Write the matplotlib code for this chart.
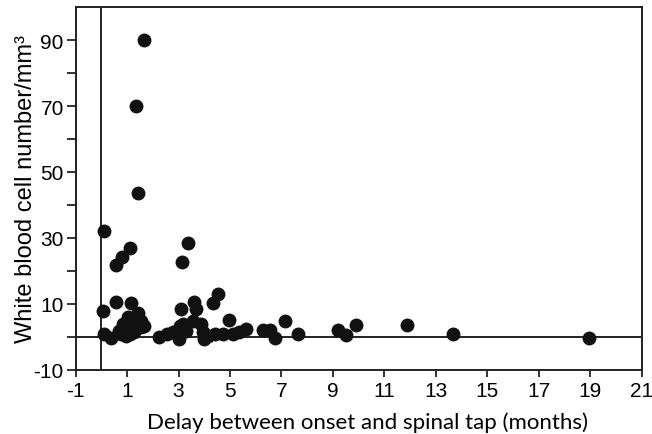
import matplotlib
matplotlib.use("Agg")
import matplotlib.pyplot as plt

plt.rcParams["font.family"] = ["Liberation Sans", "DejaVu Sans"]
plt.rcParams["axes.unicode_minus"] = False

# delay between onset and spinal tap (months) vs white blood cell count
delay_months = [
    0.11, 0.05, 0.12, 0.37, 0.57, 0.56, 0.82, 1.12, 1.15, 1.42,
    1.02, 0.83, 0.70, 1.15, 1.54, 1.67, 1.28, 0.96, 1.67, 1.35,
    1.43, 0.78, 1.10, 1.55,
    2.25, 2.57, 2.78, 3.11, 3.13, 3.35, 3.17, 3.30, 3.01, 3.04,
    3.56, 3.62, 3.69, 3.88, 3.95, 4.14, 4.33, 4.53, 4.40, 4.00,
    4.72, 4.98, 5.11, 5.37, 5.63, 6.28, 6.54, 6.75, 7.15, 7.65,
    9.19, 9.51, 9.90, 11.87, 13.68, 18.96,
]
wbc_count = [
    32.0, 7.7, 0.8, -0.5, 10.4, 21.7, 24.2, 26.9, 10.2, 7.2,
    5.9, 3.9, 1.8, 3.3, 4.9, 3.3, 1.3, 0.3, 90.0, 70.0,
    43.5, 0.8, 0.8, 3.0,
    -0.2, 0.8, 1.3, 8.4, 22.7, 28.4, 3.9, 1.8, -0.6, 3.3,
    4.9, 10.4, 8.4, 3.9, 1.3, 0.3, 10.2, 12.9, 0.8, -0.6,
    0.8, 5.0, 0.8, 1.3, 2.3, 2.1, 2.1, -0.5, 4.8, 0.7,
    2.0, 0.6, 3.5, 3.5, 0.8, -0.5,
]

x_ticks = list(range(-1, 22, 2))
y_ticks = list(range(-10, 91, 20))
y_minor = list(range(0, 81, 20))

fig = plt.figure(figsize=(6.52, 4.35), dpi=100)
ax = fig.add_axes([0.116, 0.148, 0.868, 0.833])

ax.plot(delay_months, wbc_count, "o", color="#111111", markersize=10,
        markeredgewidth=0, zorder=3)

# reference lines at x=0 and y=0
ax.axvline(0, color="#222222", linewidth=1.4, zorder=2)
ax.axhline(0, color="#222222", linewidth=1.4, zorder=2)

ax.set_xlim(-1, 21)
ax.set_ylim(-10, 100)
ax.set_xticks(x_ticks)
ax.set_yticks(y_ticks)
ax.set_yticks(y_minor, minor=True)
ax.tick_params(axis="both", which="both", direction="out", width=1.3,
               color="#222222", labelsize=15)
ax.tick_params(axis="x", length=5, pad=3)
ax.tick_params(axis="y", which="both", length=6.5, pad=2)

for s in ax.spines.values():
    s.set_linewidth(1.4)
    s.set_color("#222222")

ax.set_xlabel("Delay between onset and spinal tap (months)", family="Lato",
              fontsize=16)
ax.xaxis.set_label_coords(0.516, -0.115)
ax.set_ylabel("White blood cell number/mm\u00b3", fontsize=17)
ax.yaxis.set_label_coords(-0.069, 0.5)

plt.savefig("out.png", dpi=100)
